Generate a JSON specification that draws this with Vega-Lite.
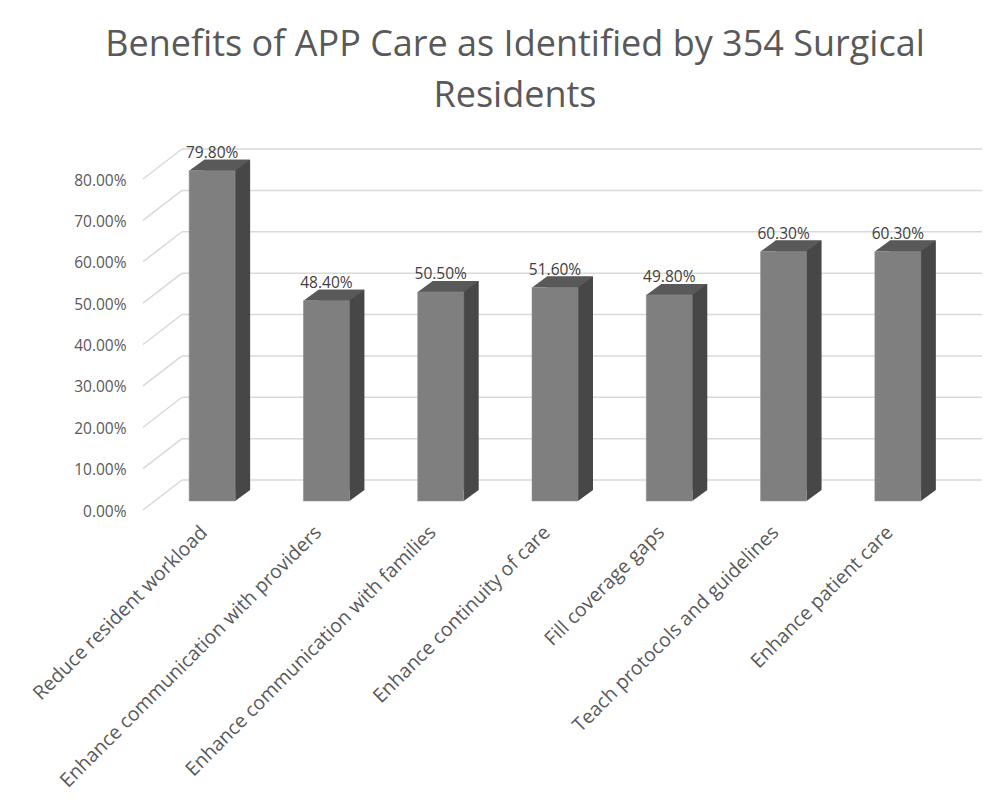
{
  "$schema": "https://vega.github.io/schema/vega-lite/v6.json",
  "autosize": "none",
  "width": 800,
  "height": 331,
  "padding": {"left": 155, "top": 170, "right": 34, "bottom": 310},
  "background": "white",
  "config": {
    "view": {"stroke": null},
    "font": "Open Sans"
  },
  "title": {
    "text": ["Benefits of APP Care as Identified by 354 Surgical", "Residents"],
    "fontSize": 36,
    "font": "Open Sans",
    "fontWeight": "normal",
    "color": "#595959",
    "anchor": "middle",
    "dx": -40,
    "offset": 31,
    "lineHeight": 50.5
  },
  "datasets": {
    "benefits": [
      {"benefit": "Reduce resident workload", "share": 0.798},
      {"benefit": "Enhance communication with providers", "share": 0.484},
      {"benefit": "Enhance communication with families", "share": 0.505},
      {"benefit": "Enhance continuity of care", "share": 0.516},
      {"benefit": "Fill coverage gaps", "share": 0.498},
      {"benefit": "Teach protocols and guidelines", "share": 0.603},
      {"benefit": "Enhance patient care", "share": 0.603}
    ],
    "gridlines": [
      {"level": 0}, {"level": 0.1}, {"level": 0.2}, {"level": 0.3}, {"level": 0.4},
      {"level": 0.5}, {"level": 0.6}, {"level": 0.7}, {"level": 0.8}
    ]
  },
  "layer": [
    {
      "data": {"name": "gridlines"},
      "mark": {"type": "rule", "color": "#d9d9d9", "strokeWidth": 1.5, "xOffset": 27, "x2Offset": 27, "yOffset": -21, "y2Offset": -21},
      "encoding": {
        "x": {"datum": "Reduce resident workload", "type": "nominal", "bandPosition": 0,
          "scale": {"domain": ["Reduce resident workload", "Enhance communication with providers", "Enhance communication with families", "Enhance continuity of care", "Fill coverage gaps", "Teach protocols and guidelines", "Enhance patient care"], "paddingInner": 0, "paddingOuter": 0}},
        "x2": {"datum": "Enhance patient care", "bandPosition": 1},
        "y": {"field": "level", "type": "quantitative", "scale": {"domain": [0, 0.8]},
          "axis": {"format": ".2%", "values": [0, 0.1, 0.2, 0.3, 0.4, 0.5, 0.6, 0.7, 0.8], "title": null, "grid": false, "domain": false, "ticks": false,
            "labelFontSize": 15.5, "labelColor": "#595959", "labelPadding": 29, "labelOffset": 10, "labelFont": "Open Sans"}}
      }
    },
    {
      "data": {"name": "gridlines"},
      "mark": {"type": "rule", "color": "#d9d9d9", "strokeWidth": 1.5, "xOffset": -12, "yOffset": 9, "y2Offset": -21},
      "encoding": {
        "x": {"datum": "Reduce resident workload", "type": "nominal", "bandPosition": 0},
        "x2": {"datum": "Reduce resident workload", "bandPosition": 0.236},
        "y": {"field": "level", "type": "quantitative"},
        "y2": {"field": "level"}
      }
    },
    {
      "data": {"name": "benefits"},
      "mark": {"type": "bar", "color": "#474747", "size": 46, "xOffset": 15, "yOffset": -11},
      "encoding": {
        "x": {"field": "benefit", "type": "nominal", "sort": null,
          "axis": {"title": null, "labelAngle": -45, "domain": false, "ticks": false, "labelFontSize": 19.5, "labelColor": "#595959", "labelPadding": 28, "labelOffset": -8, "labelLimit": 400, "labelFont": "Open Sans"}},
        "y": {"field": "share", "type": "quantitative"}
      }
    },
    {
      "data": {"name": "benefits"},
      "mark": {"type": "point", "shape": "M0,0L1,-0.733L0,-0.733Z", "size": 900, "filled": true, "opacity": 1, "color": "#474747", "strokeWidth": 0, "xOffset": 23},
      "encoding": {
        "x": {"field": "benefit", "type": "nominal", "sort": null},
        "y": {"datum": 0, "type": "quantitative"}
      }
    },
    {
      "data": {"name": "benefits"},
      "mark": {"type": "point", "shape": "M0,0L3.067,0L4.067,-0.733L1,-0.733Z", "size": 900, "filled": true, "opacity": 1, "color": "#595959", "strokeWidth": 0, "xOffset": -23},
      "encoding": {
        "x": {"field": "benefit", "type": "nominal", "sort": null},
        "y": {"field": "share", "type": "quantitative"}
      }
    },
    {
      "data": {"name": "benefits"},
      "mark": {"type": "bar", "color": "#7f7f7f", "size": 46, "stroke": "#8c8c8c", "strokeWidth": 0.5},
      "encoding": {
        "x": {"field": "benefit", "type": "nominal", "sort": null},
        "y": {"field": "share", "type": "quantitative"}
      }
    },
    {
      "data": {"name": "benefits"},
      "mark": {"type": "text", "baseline": "alphabetic", "dy": -13, "fontSize": 15.5, "color": "#404040", "font": "Open Sans"},
      "encoding": {
        "x": {"field": "benefit", "type": "nominal", "sort": null},
        "y": {"field": "share", "type": "quantitative"},
        "text": {"field": "share", "type": "quantitative", "format": ".2%"}
      }
    }
  ]
}
